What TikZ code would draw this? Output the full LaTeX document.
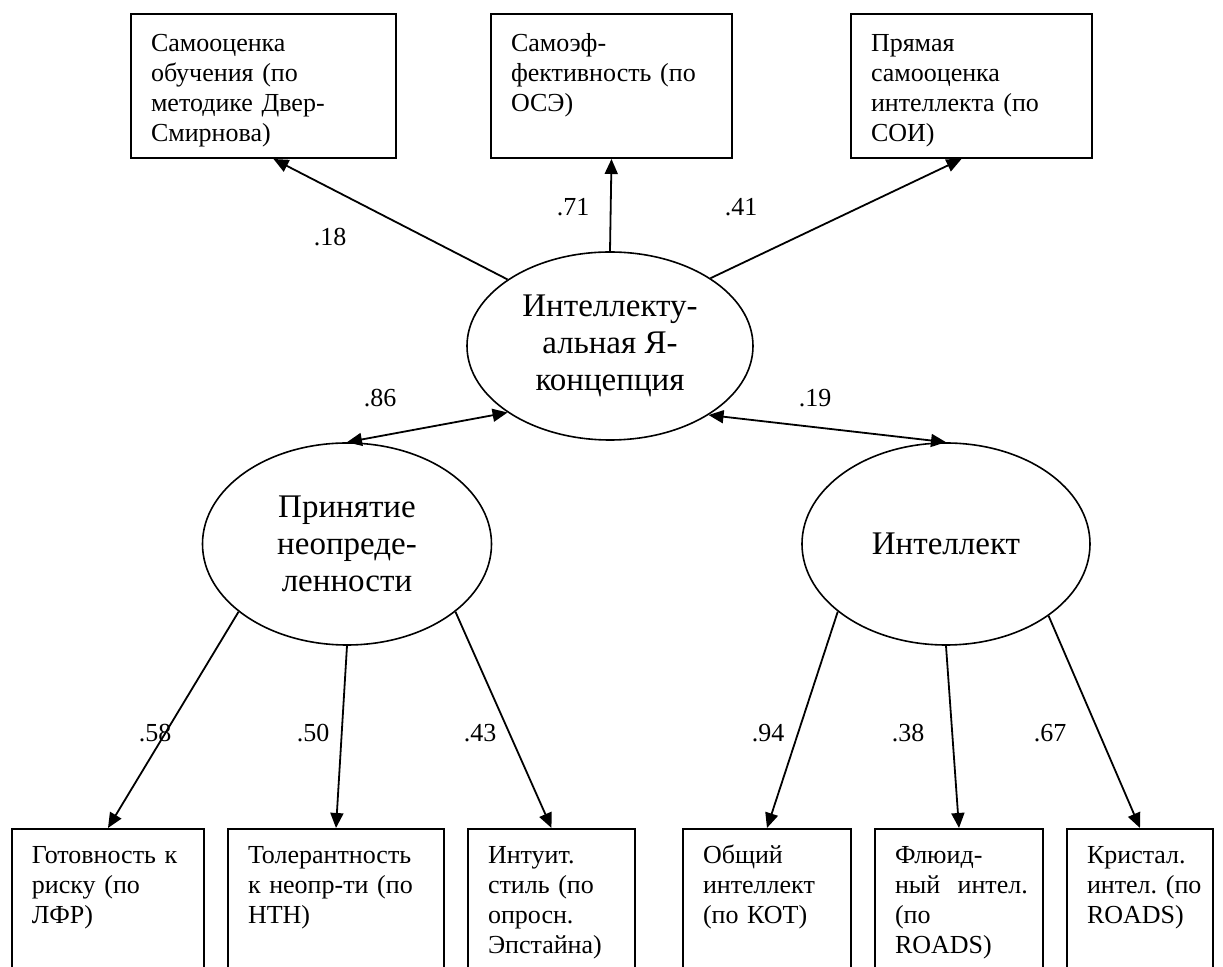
\documentclass[tikz,border=0pt]{standalone}
\usepackage{fontspec}
\setmainfont{Liberation Serif}
\usetikzlibrary{arrows.meta, shapes.geometric}

\tikzset{
  mbox/.style={draw, line width=1pt, anchor=north west, align=left,
    font=\fontsize{13}{15}\selectfont, text width=#1, inner xsep=10pt, inner ysep=0pt},
  topbox/.style={mbox=#1, text height=19pt, text depth=53pt},
  botbox/.style={mbox=#1, text height=17.5pt, text depth=80pt},
  latent/.style={draw, ellipse, line width=0.8pt, inner sep=0pt, align=center,
    font=\fontsize{16.5}{18.5}\selectfont},
  coef/.style={font=\fontsize{13}{15}\selectfont},
  link/.style={-{Triangle[length=7.5pt,width=6.5pt]}, line width=0.9pt},
  twolink/.style={{Triangle[length=7.5pt,width=6.5pt]}-{Triangle[length=7.5pt,width=6.5pt]}, line width=0.9pt}
}

\begin{document}
\begin{tikzpicture}[x=0.5pt, y=-0.5pt]
\useasboundingbox (0,0) rectangle (1223,967);
\clip (0,0) rectangle (1223,967);

% indicators of the self-concept
\node[topbox=112.5pt] (selfedu) at (130,13) {Самооценка\\обучения (по\\методике Двер-\\Смирнова)};
\node[topbox=100.5pt] (selfeff) at (490,13) {Самоэф-\\фективность (по\\ОСЭ)};
\node[topbox=100.5pt] (selfint) at (850,13) {Прямая\\самооценка\\интеллекта (по\\СОИ)};

% latent factors
\node[latent, minimum width=143pt, minimum height=94pt] (iconc) at (610,346) {Интеллекту-\\альная Я-\\концепция};
\node[latent, minimum width=144.5pt, minimum height=101pt] (uncert) at (347,544) {Принятие\\неопреде-\\ленности};
\node[latent, minimum width=144pt, minimum height=101pt] (intel) at (946,544) {Интеллект};

% lower indicators
\node[botbox=76pt] (risk) at (11,828) {Готовность~к\\риску (по\\ЛФР)};
\node[botbox=88pt] (toler) at (227,828) {Толерантность\\к неопр-ти (по\\НТН)};
\node[botbox=63.5pt] (intuit) at (467,828) {Интуит.\\стиль (по\\опросн.\\Эпстайна)};
\node[botbox=64pt] (gen) at (682,828) {Общий\\интеллект\\(по КОТ)};
\node[botbox=64pt] (fluid) at (874,828) {Флюид-\\ный~~интел.\\(по\\ROADS)};
\node[botbox=53pt] (cryst) at (1066,828) {Кристал.\\интел.~(по\\ROADS)};

\draw[link] (iconc.147) -- ([xshift=5pt]selfedu.south);
\draw[link] (iconc.north) -- (selfeff.south);
\draw[link] (iconc.34) -- ([xshift=-5pt]selfint.south);
\draw[twolink] (iconc.213) -- (uncert.north);
\draw[twolink] (iconc.325) -- (intel.north);

\draw[link] (uncert.212) -- (risk.north);
\draw[link] (uncert.270) -- (toler.north);
\draw[link] (uncert.328) -- (intuit.north);
\draw[link] (intel.212) -- (gen.north);
\draw[link] (intel.270) -- (fluid.north);
\draw[link] (intel.325) -- (cryst.north);

% loadings
\node[coef] (c18) at (330,237) {.18};
\node[coef] (c71) at (573,207) {.71};
\node[coef] (c41) at (741,207) {.41};
\node[coef] (c86) at (380,398) {.86};
\node[coef] (c19) at (815,398) {.19};
\node[coef] (c58) at (155,733) {.58};
\node[coef] (c50) at (313,733) {.50};
\node[coef] (c43) at (480,733) {.43};
\node[coef] (c94) at (768,733) {.94};
\node[coef] (c38) at (908,733) {.38};
\node[coef] (c67) at (1050,733) {.67};
\end{tikzpicture}
\end{document}
